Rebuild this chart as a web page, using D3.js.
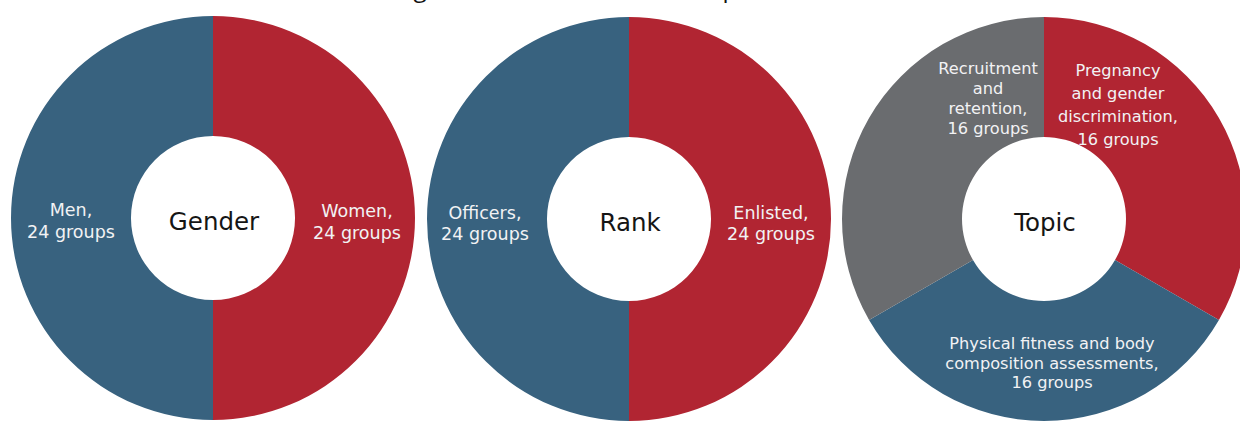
<!DOCTYPE html>
<html>
<head>
<meta charset="utf-8">
<script src="https://cdn.jsdelivr.net/npm/d3@7"></script>
<style>
  html, body { margin: 0; padding: 0; background: #ffffff; }
  svg { display: block; }
</style>
</head>
<body>
<svg id="chart" width="1240" height="423"></svg>
<script>
// ---- Data ----
const chartTitle = "Categories of the 48 Focus Groups";
const donutNames = ["Gender", "Rank", "Topic"];

const genderCategories = ["Women", "Men"];
const genderValues = [24, 24];

const rankCategories = ["Enlisted", "Officers"];
const rankValues = [24, 24];

const topicCategories = ["Pregnancy and gender discrimination", "Physical fitness and body composition assessments", "Recruitment and retention"];
const topicValues = [16, 16, 16];

// Label lines (text shown in each slice)
const genderLabels = [["Women,", "24 groups"], ["Men,", "24 groups"]];
const rankLabels = [["Enlisted,", "24 groups"], ["Officers,", "24 groups"]];
const topicLabels = [
  ["Pregnancy", "and gender", "discrimination,", "16 groups"],
  ["Physical fitness and body", "composition assessments,", "16 groups"],
  ["Recruitment", "and", "retention,", "16 groups"]
];

// ---- Layout / style ----
const colors = { red: "#b12532", blue: "#38627f", gray: "#6a6c6f" };
const sliceColors = [
  [colors.red, colors.blue],
  [colors.red, colors.blue],
  [colors.red, colors.blue, colors.gray]
];
const centers = [[213, 218], [629, 219], [1044, 219]];
const outerR = 202, innerR = 82;
const labelFont = "'DejaVu Sans', sans-serif";

// label anchor offsets (from donut center) and line spacing
const labelLayout = [
  { pos: [[144, -1], [-142, -2]], lh: 22, size: 17.5 },
  { pos: [[142, 0], [-144, 0]], lh: 21, size: 17.5 },
  { pos: [[74, -143], [8, 130], [-56, -145]], lh: [23, 19.5, 20], size: 16.2 }
];

const svg = d3.select("#chart");
const pie = d3.pie().sort(null).value(d => d.value);
const arc = d3.arc().innerRadius(innerR).outerRadius(outerR);

const datasets = [
  { cats: genderCategories, vals: genderValues, labels: genderLabels },
  { cats: rankCategories, vals: rankValues, labels: rankLabels },
  { cats: topicCategories, vals: topicValues, labels: topicLabels }
];

datasets.forEach((ds, i) => {
  const g = svg.append("g").attr("transform", `translate(${centers[i][0]},${centers[i][1]})`);
  const data = ds.cats.map((c, k) => ({ name: c, value: ds.vals[k], idx: k }));
  const arcs = pie(data);
  g.selectAll("path.slice").data(arcs).join("path")
    .attr("class", "slice")
    .attr("d", arc)
    .attr("fill", d => sliceColors[i][d.data.idx]);

  const lay = labelLayout[i];
  arcs.forEach((a, k) => {
    const lines = ds.labels[k];
    const [ox, oy] = lay.pos[k];
    const lh = Array.isArray(lay.lh) ? lay.lh[k] : lay.lh;
    const t = g.append("text")
      .attr("x", ox).attr("y", oy)
      .attr("text-anchor", "middle")
      .attr("font-family", labelFont)
      .attr("font-size", lay.size)
      .attr("fill", "#f2f2f4");
    lines.forEach((ln, j) => {
      t.append("tspan").attr("x", ox).attr("y", oy + j * lh).text(ln);
    });
  });

  g.append("text")
    .attr("x", 1).attr("y", 12)
    .attr("text-anchor", "middle")
    .attr("font-family", labelFont)
    .attr("font-size", 24.5)
    .attr("fill", "#151515")
    .text(donutNames[i]);
});

// Title: mostly above the visible area (only descenders show)
const title = svg.append("text")
  .attr("x", 0).attr("y", -3)
  .attr("font-family", "'Open Sans', sans-serif")
  .attr("font-size", 26)
  .attr("fill", "#111")
  .text(chartTitle);
// align so the 'g' lands near x=420 and 'p' near x=730
const node = title.node();
const gi = chartTitle.indexOf("g"), pi = chartTitle.lastIndexOf("p");
const gx = node.getStartPositionOfChar(gi).x + node.getExtentOfChar(gi).width / 2;
const px = node.getStartPositionOfChar(pi).x + node.getExtentOfChar(pi).width / 2;
const s = 310 / (px - gx);
title.attr("font-size", 26 * s);
const gx2 = node.getStartPositionOfChar(gi).x + node.getExtentOfChar(gi).width / 2;
title.attr("x", 420 - gx2).attr("y", -3 * s);
</script>
</body>
</html>
